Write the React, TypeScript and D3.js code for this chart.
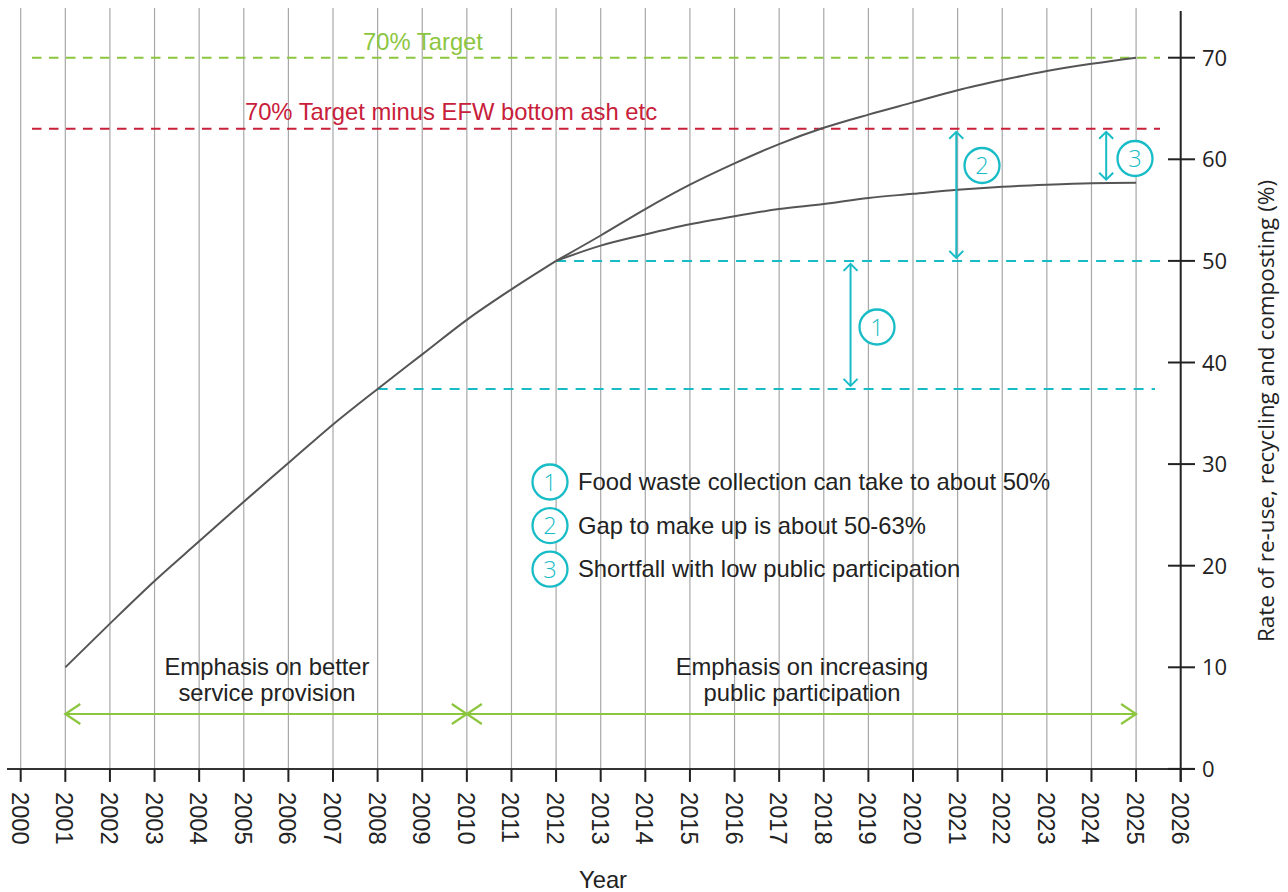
import React from "react";
import * as d3 from "d3";

const years = d3.range(2000, 2027);
const gridYears = d3.range(2000, 2026);
const yTicks = [0, 10, 20, 30, 40, 50, 60, 70];

const baseYears = [2001, 2002, 2003, 2004, 2005, 2006, 2007, 2008, 2009, 2010, 2011, 2012];
const baseValues = [10, 14.3, 18.5, 22.4, 26.3, 30.1, 33.9, 37.4, 40.8, 44.2, 47.2, 50];
const branchYears = [2012, 2013, 2014, 2015, 2016, 2017, 2018, 2019, 2020, 2021, 2022, 2023, 2024, 2025];
const upperValues = [50, 52.5, 55.1, 57.5, 59.6, 61.5, 63.1, 64.4, 65.6, 66.8, 67.8, 68.7, 69.4, 70];
const lowerValues = [50, 51.5, 52.6, 53.6, 54.4, 55.1, 55.6, 56.2, 56.6, 57.0, 57.3, 57.5, 57.65, 57.7];

const targetValue = 70;
const adjustedTarget = 63;
const foodWasteLevel = 50;
const startLevel = 37.4;

const legendItems = [
  "Food waste collection can take to about 50%",
  "Gap to make up is about 50-63%",
  "Shortfall with low public participation",
];

const GREEN = "#8cc63f";
const RED = "#c8203a";
const CYAN = "#17bcc6";
const CURVE = "#555555";
const GRID = "#a8a8a8";
const TEXT = "#222222";
const HELV = "'Liberation Sans', Arial, Helvetica, sans-serif";
const MYRIAD = "'Open Sans', 'Noto Sans', sans-serif";
const FS = 23.8;

const x = d3.scaleLinear().domain([2000, 2026]).range([20.7, 1180.7]);
const y = d3.scaleLinear().domain([0, 70]).range([768.9, 57.7]);

const line = d3
  .line<[number, number]>()
  .x((d) => x(d[0]))
  .y((d) => y(d[1]))
  .curve(d3.curveMonotoneX);

function VArrow({ xv, v1, v2, color }: { xv: number; v1: number; v2: number; color: string }) {
  const px = x(xv);
  const top = y(Math.max(v1, v2)) + 3;
  const bot = y(Math.min(v1, v2)) - 3;
  const w = 7;
  const h = 7;
  return (
    <g stroke={color} strokeWidth={2} fill="none">
      <line x1={px} y1={top} x2={px} y2={bot} />
      <polyline points={`${px - w},${top + h} ${px},${top} ${px + w},${top + h}`} />
      <polyline points={`${px - w},${bot - h} ${px},${bot} ${px + w},${bot - h}`} />
    </g>
  );
}

function HArrow({ x1, x2, py, color }: { x1: number; x2: number; py: number; color: string }) {
  const a = x(x1);
  const b = x(x2);
  const w = 15;
  const h = 10;
  return (
    <g stroke={color} strokeWidth={2.2} fill="none">
      <line x1={a} y1={py} x2={b} y2={py} />
      <polyline points={`${a + w},${py - h} ${a},${py} ${a + w},${py + h}`} />
      <polyline points={`${b - w},${py - h} ${b},${py} ${b - w},${py + h}`} />
    </g>
  );
}

function Badge({ cx, cy, label }: { cx: number; cy: number; label: string }) {
  return (
    <g>
      <circle cx={cx} cy={cy} r={17.5} fill="white" stroke={CYAN} strokeWidth={2.3} />
      <text
        x={cx}
        y={cy + 8.5}
        textAnchor="middle"
        fontFamily={MYRIAD}
        fontWeight={300}
        fontSize={23.5}
        fill={CYAN}
      >
        {label}
      </text>
    </g>
  );
}

export default function App() {
  const axisY = y(0);
  const axisX = x(2026);
  const basePts = baseYears.map((yr, i) => [yr, baseValues[i]] as [number, number]);
  const upperPts = branchYears.map((yr, i) => [yr, upperValues[i]] as [number, number]);
  const lowerPts = branchYears.map((yr, i) => [yr, lowerValues[i]] as [number, number]);

  return (
    <svg
      width={1288}
      height={892}
      style={{ position: "absolute", left: 0, top: 0, background: "white" }}
    >
      {/* grid */}
      {gridYears.map((yr) => (
        <line key={yr} x1={x(yr)} x2={x(yr)} y1={8} y2={axisY} stroke={GRID} strokeWidth={1.2} />
      ))}

      {/* target lines */}
      <line x1={32} x2={1160} y1={y(targetValue)} y2={y(targetValue)} stroke={GREEN} strokeWidth={2} strokeDasharray="9.5 7.5" />
      <line x1={32} x2={1160} y1={y(adjustedTarget)} y2={y(adjustedTarget)} stroke={RED} strokeWidth={2} strokeDasharray="9.5 7.5" />
      <text x={423} y={y(targetValue) - 8} textAnchor="middle" fontFamily={HELV} fontSize={FS} fill={GREEN}>
        70% Target
      </text>
      <text x={451} y={y(adjustedTarget) - 9} textAnchor="middle" fontFamily={HELV} fontSize={FS} fill={RED}>
        70% Target minus EFW bottom ash etc
      </text>

      {/* cyan reference lines */}
      <line x1={x(2012)} x2={1162} y1={y(foodWasteLevel)} y2={y(foodWasteLevel)} stroke={CYAN} strokeWidth={2} strokeDasharray="10 8" />
      <line x1={x(2008)} x2={1155} y1={y(startLevel)} y2={y(startLevel)} stroke={CYAN} strokeWidth={2} strokeDasharray="10 8" />

      {/* curves */}
      <path d={line(basePts) || ""} fill="none" stroke={CURVE} strokeWidth={2} />
      <path d={line(upperPts) || ""} fill="none" stroke={CURVE} strokeWidth={2} />
      <path d={line(lowerPts) || ""} fill="none" stroke={CURVE} strokeWidth={2} />

      {/* gap arrows */}
      <VArrow xv={2018.6} v1={foodWasteLevel} v2={startLevel} color={CYAN} />
      <VArrow xv={2020.97} v1={adjustedTarget} v2={foodWasteLevel} color={CYAN} />
      <VArrow xv={2024.33} v1={adjustedTarget} v2={57.7} color={CYAN} />
      <Badge cx={877} cy={327} label="1" />
      <Badge cx={982} cy={165.5} label="2" />
      <Badge cx={1135} cy={158.5} label="3" />

      {/* legend */}
      {legendItems.map((t, i) => (
        <g key={t}>
          <Badge cx={550} cy={482 + i * 43.6} label={String(i + 1)} />
          <text x={578} y={490 + i * 43.6} fontFamily={HELV} fontSize={FS} fill={TEXT}>
            {t}
          </text>
        </g>
      ))}

      {/* phase arrows */}
      <HArrow x1={2001} x2={2010} py={714} color={GREEN} />
      <HArrow x1={2010} x2={2025} py={714} color={GREEN} />
      <text textAnchor="middle" fontFamily={HELV} fontSize={FS} fill={TEXT}>
        <tspan x={267} y={675}>Emphasis on better</tspan>
        <tspan x={267} y={701}>service provision</tspan>
      </text>
      <text textAnchor="middle" fontFamily={HELV} fontSize={FS} fill={TEXT}>
        <tspan x={802} y={675}>Emphasis on increasing</tspan>
        <tspan x={802} y={701}>public participation</tspan>
      </text>

      {/* x axis */}
      <line x1={7} x2={1195} y1={axisY} y2={axisY} stroke="#333" strokeWidth={2} />
      {years.map((yr) => (
        <g key={yr} transform={`translate(${x(yr)},0)`}>
          <line y1={axisY} y2={axisY + 13} stroke="#222" strokeWidth={2} />
          <text
            transform={`translate(-9,${axisY + 23}) rotate(90)`}
            fontFamily={HELV}
            fontSize={FS}
            fill={TEXT}
          >
            {yr}
          </text>
        </g>
      ))}
      <text x={603} y={888} textAnchor="middle" fontFamily={HELV} fontSize={FS} fill={TEXT}>
        Year
      </text>

      {/* y axis */}
      <line x1={axisX} x2={axisX} y1={11} y2={axisY + 13} stroke="#222" strokeWidth={2} />
      {yTicks.map((v) => (
        <g key={v}>
          <line x1={1168} x2={1195} y1={y(v)} y2={y(v)} stroke="#222" strokeWidth={2} />
          <text x={1202} y={y(v) + 8} fontFamily={MYRIAD} fontSize={22} fill={TEXT}>
            {v}
          </text>
        </g>
      ))}
      <text
        transform={`translate(1274,411) rotate(-90)`}
        textAnchor="middle"
        fontFamily={MYRIAD}
        fontSize={22.5}
        fill={TEXT}
      >
        Rate of re-use, recycling and composting (%)
      </text>
    </svg>
  );
}
